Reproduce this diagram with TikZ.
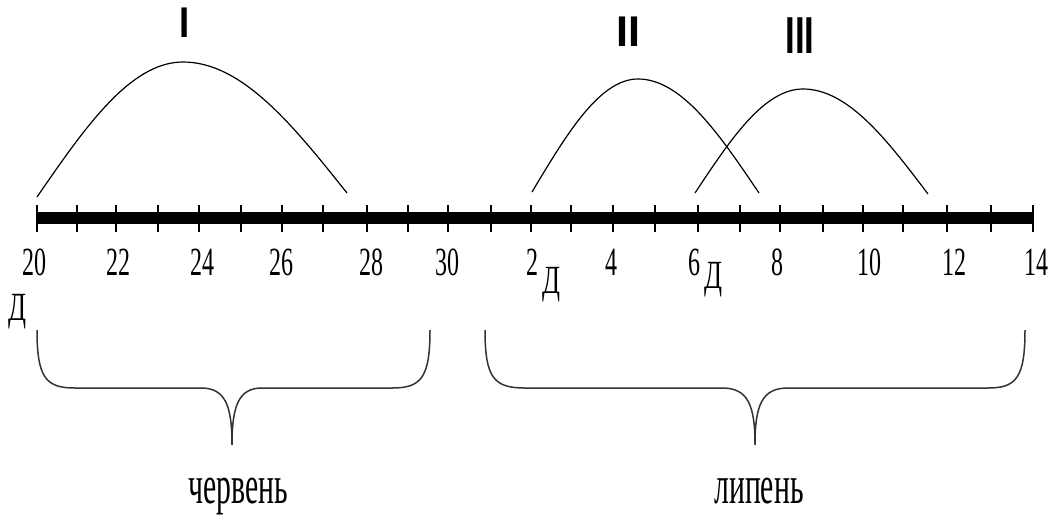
\documentclass[tikz,border=0pt]{standalone}
\usepackage{graphicx}
\usepackage{fontspec}
\setmainfont{Liberation Serif}
\newfontfamily\numfont{Liberation Sans}
\newcommand{\axlbl}[3]{\scalebox{#2}[1]{\fontsize{#1}{#1}\selectfont #3}}
\begin{document}
\begin{tikzpicture}[x=1pt,y=-1pt,
  curve/.style={line width=1.2pt,black},
  brace/.style={line width=1.5pt,black!80},
  tick/.style={line width=2.4pt,black},
  lbl/.style={inner sep=0pt,anchor=center},
  mon/.style={inner sep=0pt,anchor=base},
  rom/.style={inner sep=0pt,anchor=center,font=\numfont\bfseries}]
\useasboundingbox[fill=white] (0,0) rectangle (1055,517);
% axis
\draw[line width=12pt,black] (37,218) -- (1034,218);
\foreach \x in {37,77,116,158,199,241,282,323,367,408,448,491,531,571,613,655,698,740,780,823,863,903,947,991,1033}
  \draw[tick] (\x,205) -- (\x,232);
% tick labels
\foreach \x/\t [count=\i] in {35/20,118/22,202/24,281/26,371/28,447/30,532/2,611/4,694/6,777/8,869/10,954/12,1036/14}
  \node[lbl] (t\i) at (\x,262) {\axlbl{40}{0.6}{\t}};
\node[lbl] (d1) at (18,312) {\axlbl{40}{0.66}{Д}};
\node[lbl] (d2) at (551,285) {\axlbl{40}{0.66}{Д}};
\node[lbl] (d3) at (713,280) {\axlbl{40}{0.66}{Д}};
% curves
\draw[curve] (37,197) sin (183,62) cos (347,193);
\draw[curve] (532,192) sin (638,79) cos (759,193);
\draw[curve] (695,193) sin (803,89) cos (928,194);
% roman numerals
\node[rom] (r1) at (184.5,23) {\axlbl{43}{0.85}{I}};
\node[rom] (r2) at (628,32) {\axlbl{43}{1}{II}};
\node[rom] (r3) at (800,36) {\axlbl{52}{0.67}{III}};
% braces
\draw[brace] (37,330) .. controls (37,378) and (46,388) .. (75,388)
  -- (201,388) .. controls (225,388) and (232,405) .. (232,445)
  .. controls (232,405) and (239,388) .. (262,388)
  -- (392,388) .. controls (421,388) and (430,378) .. (430,330);
\draw[brace] (485,330) .. controls (485,378) and (494,388) .. (525,388)
  -- (722,388) .. controls (748,388) and (755,405) .. (755,445)
  .. controls (755,405) and (762,388) .. (788,388)
  -- (988,388) .. controls (1016,388) and (1025,378) .. (1025,330);
% month labels
\node[mon] (m1) at (238,503) {\axlbl{54}{0.55}{червень}};
\node[mon] (m2) at (759,503) {\axlbl{54}{0.55}{липень}};
\end{tikzpicture}
\end{document}
